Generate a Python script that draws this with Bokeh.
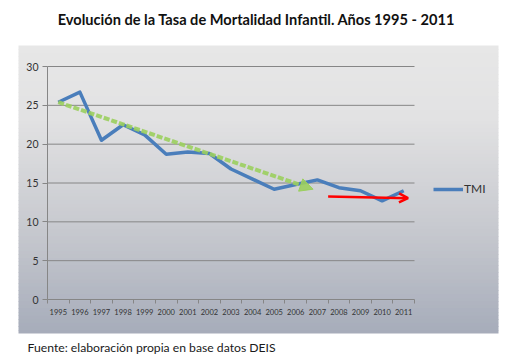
from bokeh.plotting import figure
from bokeh.models import (Range1d, FixedTicker, BoxAnnotation, Label, Arrow,
                          NormalHead, OpenHead, Legend, LegendItem, ColumnDataSource)
from bokeh.embed import file_html
from bokeh.resources import INLINE

# ---- data ----
years = [1995, 1996, 1997, 1998, 1999, 2000, 2001, 2002, 2003, 2004,
         2005, 2006, 2007, 2008, 2009, 2010, 2011]
tmi = [25.4, 26.7, 20.5, 22.5, 21.2, 18.7, 19.0, 18.8, 16.8, 15.5,
       14.2, 14.8, 15.4, 14.4, 14.0, 12.7, 14.0]
trend_x = [1995.0, 2006.8]
trend_y = [25.4, 14.2]
flat_x = [2007.5, 2011.2]
flat_y = [13.25, 13.05]
y_ticks = [0, 5, 10, 15, 20, 25, 30]
title_text = "Evolución de la Tasa de Mortalidad Infantil. Años 1995 - 2011"
source_text = "Fuente:  elaboración propia en base datos DEIS"
series_name = "TMI"

FONT = "Lato"
W, H = 522, 362
# plot area placement (pixels) inside the canvas
PX_L, PX_R, PX_T, PX_B = 47, 414, 66, 299

x_lo, x_hi = years[0] - 0.5, years[-1] + 0.5
y_lo, y_hi = y_ticks[0], y_ticks[-1]
sx = (PX_R - PX_L) / (x_hi - x_lo)
sy = (PX_B - PX_T) / (y_hi - y_lo)

p = figure(width=W, height=H, output_backend="svg", toolbar_location=None,
           x_range=Range1d(x_lo - PX_L / sx, x_hi + (W - PX_R) / sx),
           y_range=Range1d(y_lo - (H - PX_B) / sy, y_hi + PX_T / sy),
           min_border_left=0, min_border_right=0,
           min_border_top=0, min_border_bottom=0)
p.border_fill_color = "white"
p.background_fill_color = "white"
p.outline_line_color = None

# gradient background panel (styling only), screen px from canvas bottom-left
N = 80
top_s, bot_s = H - 45, H - 333
def col(t):
    stops = [(0.0, (231, 231, 231)), (0.25, (226, 226, 227)),
             (0.65, (198, 200, 206)), (1.0, (166, 172, 186))]
    for (t0, c0), (t1, c1) in zip(stops[:-1], stops[1:]):
        if t <= t1:
            f = (t - t0) / (t1 - t0)
            return "#%02x%02x%02x" % tuple(int(round(a + (b - a) * f)) for a, b in zip(c0, c1))
    return "#%02x%02x%02x" % stops[-1][1]
h = (top_s - bot_s) / N
for i in range(N):
    t = (i + 0.5) / N
    b = BoxAnnotation(left=18, right=498, top=top_s - i * h,
                      bottom=max(bot_s, top_s - (i + 1) * h - 0.6),
                      left_units="screen", right_units="screen",
                      top_units="screen", bottom_units="screen",
                      fill_color=col(t), fill_alpha=1.0, line_color=None, level="image")
    p.add_layout(b)

# gridlines (from tick values)
p.xgrid.visible = False
p.ygrid.visible = False
p.segment(x0=[x_lo] * (len(y_ticks) - 1), x1=[x_hi] * (len(y_ticks) - 1),
          y0=y_ticks[1:], y1=y_ticks[1:], line_color="#868686", line_width=1)

# axes placed at fixed data locations
p.xaxis.fixed_location = y_lo
p.xaxis.bounds = (x_lo, x_hi)
p.xaxis.ticker = FixedTicker(ticks=years, minor_ticks=[y - 0.5 for y in years] + [x_hi])
p.xaxis.major_label_overrides = {y: str(y) for y in years}
p.xaxis.major_tick_out = 0
p.xaxis.major_tick_in = 0
p.xaxis.minor_tick_out = 4
p.xaxis.minor_tick_in = 0
p.xaxis.minor_tick_line_color = "#868686"
p.xaxis.axis_line_color = "#868686"
p.xaxis.major_label_text_font = FONT
p.xaxis.major_label_text_font_size = "7.5px"
p.xaxis.major_label_text_color = "#333333"
p.xaxis.major_label_standoff = 5

p.yaxis.fixed_location = x_lo
p.yaxis.bounds = (y_lo, y_hi)
p.yaxis.ticker = FixedTicker(ticks=y_ticks)
p.yaxis.major_tick_out = 5
p.yaxis.major_tick_in = 0
p.yaxis.minor_tick_line_color = None
p.yaxis.major_tick_line_color = "#868686"
p.yaxis.axis_line_color = "#868686"
p.yaxis.major_label_text_font = FONT
p.yaxis.major_label_text_font_size = "10.5px"
p.yaxis.major_label_text_color = "#333333"
p.yaxis.major_label_standoff = 4

src = ColumnDataSource(dict(x=years, y=tmi))
ln = p.line("x", "y", source=src, line_color="#4A7EBB", line_width=3.5, line_join="round")

# trend arrows
p.add_layout(Arrow(x_start=trend_x[0], y_start=trend_y[0], x_end=trend_x[1], y_end=trend_y[1],
                   line_color="#9BCF5E", line_width=4, line_dash="6 2", line_alpha=0.9,
                   end=NormalHead(size=13, fill_color="#9BCF5E", line_color="#9BCF5E", fill_alpha=0.9)))
p.add_layout(Arrow(x_start=flat_x[0], y_start=flat_y[0], x_end=flat_x[1], y_end=flat_y[1],
                   line_color="#FF0000", line_width=2.5,
                   end=OpenHead(size=9, line_color="#FF0000", line_width=2.5)))

legend = Legend(items=[LegendItem(label=series_name, renderers=[ln])],
                location=(433, H - 189 - 7), orientation="vertical",
                glyph_width=30, glyph_height=14, label_standoff=1, padding=0, margin=0,
                border_line_alpha=0, background_fill_alpha=0,
                label_text_font=FONT, label_text_font_size="12px", label_text_color="#333333")
p.add_layout(legend)

p.add_layout(Label(x=256, y=H - 19, x_units="screen", y_units="screen", text=title_text,
                   text_font=FONT, text_font_style="bold", text_font_size="14.6px",
                   text_align="center", text_baseline="middle", text_color="#111111"))
p.add_layout(Label(x=27, y=H - 347, x_units="screen", y_units="screen", text=source_text,
                   text_font=FONT, text_font_size="12.2px",
                   text_align="left", text_baseline="middle", text_color="#1a1a1a"))

open("out.html", "w").write(file_html(p, INLINE))
